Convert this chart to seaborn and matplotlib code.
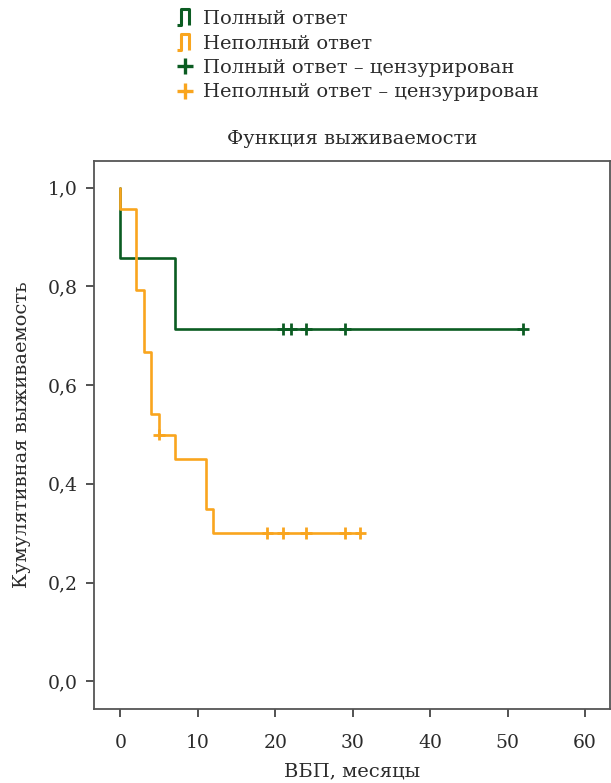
import numpy as np
import pandas as pd
import matplotlib
matplotlib.use('Agg')
import matplotlib.pyplot as plt
from matplotlib.path import Path
from matplotlib.lines import Line2D
import seaborn as sns

# step coordinates of the survival curves (steps-post)
full_time = [0, 0, 7, 52]
full_surv = [1.0, 0.857, 0.714, 0.714]
part_time = [0, 0, 2, 3, 4, 5, 7, 11, 12, 31]
part_surv = [1.0, 0.958, 0.792, 0.667, 0.542, 0.5, 0.45, 0.35, 0.30, 0.30]

# censored observations
full_cens_time = [21, 22, 24, 29, 52]
full_cens_surv = [0.714, 0.714, 0.714, 0.714, 0.714]
part_cens_time = [5, 19, 21, 24, 29, 31]
part_cens_surv = [0.5, 0.30, 0.30, 0.30, 0.30, 0.30]

groups = ['Полный ответ', 'Неполный ответ']
green = '#0b5c22'
orange = '#f9a51e'
palette = {groups[0]: green, groups[1]: orange}

curves = pd.concat([
    pd.DataFrame({'time': full_time, 'surv': full_surv, 'group': groups[0]}),
    pd.DataFrame({'time': part_time, 'surv': part_surv, 'group': groups[1]}),
], ignore_index=True)
cens = pd.concat([
    pd.DataFrame({'time': full_cens_time, 'surv': full_cens_surv, 'group': groups[0]}),
    pd.DataFrame({'time': part_cens_time, 'surv': part_cens_surv, 'group': groups[1]}),
], ignore_index=True)

sns.set_theme(style='white')
plt.rcParams['font.family'] = ['DejaVu Serif']
text_col = '#2b2b2b'
fs = 14

fig = plt.figure(figsize=(6.11, 7.83), dpi=100)
ax = fig.add_axes([0.1538, 0.0941, 0.8443, 0.7007])

sns.lineplot(data=curves, x='time', y='surv', hue='group', palette=palette,
             estimator=None, sort=False, drawstyle='steps-post', linewidth=1.9,
             legend=False, ax=ax)
sns.scatterplot(data=cens, x='time', y='surv', hue='group', palette=palette,
                marker='+', s=70, linewidth=2.0, legend=False, ax=ax, zorder=3)

ax.set_xlim(-3.4, 63.2)
ax.set_ylim(-0.057, 1.055)
ax.set_xticks(np.arange(0, 61, 10))
ax.set_yticks(np.arange(0, 1.01, 0.2))
ax.set_yticklabels([f'{v:.1f}'.replace('.', ',') for v in np.arange(0, 1.01, 0.2)])
ax.tick_params(axis='both', which='major', direction='out', length=6, width=1.3,
               color='#444444', labelsize=fs - 0.5, labelcolor=text_col,
               left=True, bottom=True)
ax.tick_params(axis='x', pad=12)
ax.tick_params(axis='y', pad=6)
for side in ['left', 'right', 'top', 'bottom']:
    ax.spines[side].set_visible(True)
    ax.spines[side].set_color('#555555')
    ax.spines[side].set_linewidth(1.3)

ax.set_title('Функция выживаемости', fontsize=fs, color=text_col, pad=12)
ax.set_xlabel('ВБП, месяцы', fontsize=fs, color=text_col, labelpad=7)
ax.set_ylabel('Кумулятивная выживаемость', fontsize=fs, color=text_col, labelpad=12)

# step-shaped legend glyph
step = Path([(-1.0, -1.0), (-0.55, -1.0), (-0.55, 1.0), (0.55, 1.0), (0.55, -1.0)],
            [Path.MOVETO, Path.LINETO, Path.LINETO, Path.LINETO, Path.LINETO])
handles = [
    Line2D([], [], linestyle='none', marker=step, markersize=11, markeredgewidth=2.2,
           markerfacecolor='none', markeredgecolor=green),
    Line2D([], [], linestyle='none', marker=step, markersize=11, markeredgewidth=2.2,
           markerfacecolor='none', markeredgecolor=orange),
    Line2D([], [], linestyle='none', marker='+', markersize=12, markeredgewidth=2.4,
           color=green),
    Line2D([], [], linestyle='none', marker='+', markersize=12, markeredgewidth=2.4,
           color=orange),
]
labels = ['Полный ответ', 'Неполный ответ',
          'Полный ответ – цензурирован', 'Неполный ответ – цензурирован']
leg = fig.legend(handles, labels, loc='upper left', bbox_to_anchor=(0.275, 0.997),
                 frameon=False, fontsize=fs, handlelength=0.9, handletextpad=0.5,
                 labelspacing=0.33, borderaxespad=0)
for t in leg.get_texts():
    t.set_color(text_col)

fig.savefig('out.png', dpi=100)
